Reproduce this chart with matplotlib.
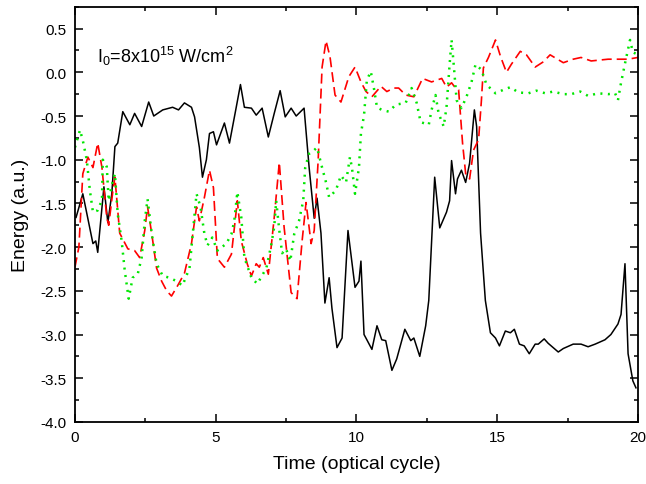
import matplotlib
matplotlib.use('Agg')
import matplotlib.pyplot as plt
from matplotlib.ticker import MultipleLocator, FormatStrFormatter

plt.rcParams['font.family'] = ['Liberation Sans', 'DejaVu Sans']
plt.rcParams['mathtext.default'] = 'regular'

# black solid curve
t_black = [0.04, 0.28, 0.64, 0.74, 0.81, 1.03, 1.17, 1.31, 1.42, 1.52, 1.70, 1.95, 2.12, 2.37, 2.62,
           2.80, 3.12, 3.47, 3.68, 3.89, 4.14, 4.25, 4.42, 4.53, 4.67, 4.78, 4.92, 5.03, 5.31, 5.49,
           5.73, 5.88, 6.02, 6.27, 6.44, 6.65, 6.87, 7.08, 7.29, 7.47, 7.68, 7.86, 8.14, 8.32, 8.50,
           8.60, 8.74, 8.88, 9.03, 9.13, 9.31, 9.49, 9.70, 9.95, 10.09, 10.16, 10.27, 10.37, 10.55,
           10.73, 10.90, 11.04, 11.26, 11.43, 11.72, 11.93, 12.04, 12.25, 12.46, 12.57, 12.78, 12.96,
           13.20, 13.31, 13.38, 13.52, 13.59, 13.73, 13.88, 14.02, 14.19, 14.27, 14.41, 14.58, 14.76,
           14.94, 15.08, 15.29, 15.47, 15.61, 15.79, 15.96, 16.14, 16.35, 16.46, 16.67, 16.81, 17.17,
           17.35, 17.70, 17.98, 18.23, 18.48, 18.83, 19.04, 19.29, 19.40, 19.54, 19.65, 19.82, 19.93]
e_black = [-1.66, -1.39, -1.96, -1.93, -2.06, -1.31, -1.72, -1.39, -0.85, -0.81, -0.45, -0.60, -0.47,
           -0.62, -0.34, -0.50, -0.43, -0.40, -0.43, -0.35, -0.40, -0.51, -0.86, -1.20, -1.00, -0.70,
           -0.68, -0.83, -0.58, -0.81, -0.40, -0.14, -0.40, -0.41, -0.49, -0.41, -0.74, -0.47, -0.21,
           -0.51, -0.41, -0.50, -0.41, -1.09, -1.67, -1.44, -1.84, -2.64, -2.35, -2.70, -3.15, -3.04,
           -1.81, -2.46, -2.39, -2.16, -3.00, -3.06, -3.17, -2.90, -3.06, -3.07, -3.41, -3.28, -2.94,
           -3.07, -3.04, -3.25, -2.90, -2.61, -1.20, -1.78, -1.60, -1.47, -1.01, -1.39, -1.22, -1.12,
           -1.26, -1.04, -0.43, -0.62, -1.84, -2.61, -2.98, -3.04, -3.13, -2.96, -2.98, -2.94, -3.11,
           -3.13, -3.22, -3.11, -3.11, -3.05, -3.10, -3.20, -3.16, -3.11, -3.11, -3.14, -3.11, -3.06,
           -3.00, -2.88, -2.77, -2.19, -3.22, -3.53, -3.61]

# red dashed curve
t_red = [0.0, 0.14, 0.28, 0.46, 0.64, 0.81, 0.96, 1.13, 1.20, 1.35, 1.42, 1.59, 1.88, 2.12, 2.30, 2.48,
         2.58, 2.73, 2.90, 3.08, 3.26, 3.43, 3.65, 3.89, 4.14, 4.32, 4.42, 4.60, 4.78, 4.92, 5.06, 5.31,
         5.56, 5.77, 5.91, 6.12, 6.27, 6.44, 6.55, 6.69, 6.87, 7.08, 7.26, 7.43, 7.68, 7.89, 8.07, 8.21,
         8.39, 8.50, 8.64, 8.78, 8.92, 9.06, 9.24, 9.45, 9.73, 9.95, 10.16, 10.34, 10.55, 10.87, 11.08,
         11.33, 11.50, 11.75, 12.04, 12.35, 12.67, 13.03, 13.20, 13.38, 13.52, 13.63, 13.77, 13.88,
         14.02, 14.16, 14.34, 14.44, 14.51, 14.69, 14.94, 15.12, 15.33, 15.50, 15.82, 16.04, 16.35,
         16.64, 16.88, 17.35, 17.70, 17.98, 18.34, 18.94, 19.65, 20.0]
e_red = [-2.23, -2.00, -1.16, -0.97, -1.09, -0.81, -1.09, -1.66, -1.75, -1.35, -1.20, -1.84, -2.02,
         -2.04, -2.12, -1.81, -1.54, -1.85, -2.24, -2.39, -2.50, -2.56, -2.44, -2.30, -1.96, -1.54,
         -1.70, -1.43, -1.12, -1.32, -2.13, -2.23, -2.08, -1.47, -1.93, -2.19, -2.33, -2.19, -2.23,
         -2.12, -2.31, -1.66, -1.03, -1.77, -2.52, -2.59, -1.93, -1.49, -1.96, -1.81, -1.01, 0.06,
         0.36, 0.18, -0.26, -0.34, -0.05, 0.06, -0.11, -0.22, -0.28, -0.16, -0.22, -0.18, -0.18,
         -0.26, -0.28, -0.07, -0.11, -0.07, -0.17, -0.12, -0.18, -0.20, -0.81, -1.16, -1.22, -0.89,
         -0.77, -0.32, 0.05, 0.17, 0.37, 0.18, 0.00, 0.09, 0.24, 0.20, 0.06, 0.12, 0.20, 0.11, 0.15,
         0.17, 0.13, 0.15, 0.15, 0.17]

# green dotted curve
t_green = [0.0, 0.18, 0.28, 0.42, 0.53, 0.64, 0.81, 0.96, 0.99, 1.13, 1.20, 1.31, 1.42, 1.52, 1.66,
           1.77, 1.91, 2.05, 2.23, 2.37, 2.48, 2.58, 2.73, 2.90, 3.12, 3.36, 3.61, 3.82, 4.07, 4.32,
           4.46, 4.60, 4.71, 4.88, 5.06, 5.38, 5.56, 5.66, 5.77, 5.91, 6.02, 6.27, 6.48, 6.80, 6.97,
           7.08, 7.15, 7.26, 7.36, 7.50, 7.65, 7.79, 7.96, 8.11, 8.18, 8.32, 8.50, 8.60, 8.78, 8.92,
           9.03, 9.27, 9.45, 9.63, 9.77, 9.84, 9.95, 10.09, 10.16, 10.27, 10.37, 10.51, 10.62, 10.73,
           10.90, 11.15, 11.40, 11.75, 11.96, 12.14, 12.28, 12.57, 12.67, 12.81, 12.92, 13.10, 13.20,
           13.31, 13.38, 13.45, 13.56, 13.73, 13.91, 14.09, 14.23, 14.44, 14.62, 14.94, 15.22, 15.47,
           15.75, 16.11, 16.39, 16.71, 16.99, 17.35, 17.63, 17.95, 18.23, 18.58, 18.94, 19.19, 19.29,
           19.40, 19.54, 19.72, 19.82, 20.0]
e_green = [-0.86, -0.66, -0.78, -1.00, -1.35, -1.60, -1.58, -1.46, -1.00, -1.08, -1.47, -1.29, -1.16,
           -1.62, -1.93, -2.27, -2.59, -2.35, -2.31, -2.12, -1.70, -1.45, -1.85, -2.19, -2.33, -2.35,
           -2.39, -2.44, -2.24, -1.39, -1.54, -1.85, -1.98, -1.89, -2.04, -1.96, -1.85, -1.70, -1.37,
           -1.66, -2.12, -2.35, -2.42, -2.24, -1.98, -1.77, -1.47, -1.81, -2.07, -2.02, -2.16, -1.85,
           -1.70, -1.47, -1.09, -0.93, -0.89, -0.86, -1.09, -1.26, -1.43, -1.35, -1.18, -1.26, -0.97,
           -1.09, -1.39, -1.09, -0.70, -0.49, -0.09, 0.01, -0.18, -0.40, -0.43, -0.45, -0.37, -0.35,
           -0.18, -0.35, -0.57, -0.60, -0.43, -0.26, -0.47, -0.62, -0.40, 0.09, 0.37, 0.11, -0.32,
           -0.41, -0.28, -0.11, 0.09, 0.03, -0.14, -0.24, -0.20, -0.17, -0.23, -0.24, -0.21, -0.24,
           -0.22, -0.25, -0.25, -0.22, -0.27, -0.24, -0.25, -0.24, -0.32, -0.12, 0.10, 0.37, 0.23, 0.20]

fig = plt.figure(figsize=(6.46, 4.85), dpi=100)
ax = fig.add_axes([0.116, 0.128, 0.8715, 0.856])

ax.plot(t_black, e_black, color='black', lw=1.1)
ax.plot(t_red, e_red, color='red', lw=1.2, dashes=(6, 3))
ax.plot(t_green, e_green, color='#00e600', lw=1.8, dashes=(0.8, 2.2))

ax.set_xlim(0, 20)
ax.set_ylim(-4.0, 0.75)
ax.xaxis.set_major_locator(MultipleLocator(5))
ax.xaxis.set_minor_locator(MultipleLocator(2.5))
ax.yaxis.set_major_locator(MultipleLocator(0.5))
ax.yaxis.set_minor_locator(MultipleLocator(0.25))
ax.yaxis.set_major_formatter(FormatStrFormatter('%.1f'))
ax.tick_params(which='both', direction='in', top=True, right=True, labelsize=11, width=1.1)
ax.tick_params(which='major', length=6, pad=6)
ax.tick_params(which='minor', length=3)
for s in ax.spines.values():
    s.set_linewidth(1.3)

ax.set_xlabel('Time (optical cycle)', fontsize=14, labelpad=8)
ax.set_ylabel('Energy (a.u.)', fontsize=14, labelpad=8)
ax.text(0.78, 0.12, r'I$_0$=8x10$^{15}$ W/cm$^2$', fontsize=13)

fig.savefig('out.png', dpi=100)
